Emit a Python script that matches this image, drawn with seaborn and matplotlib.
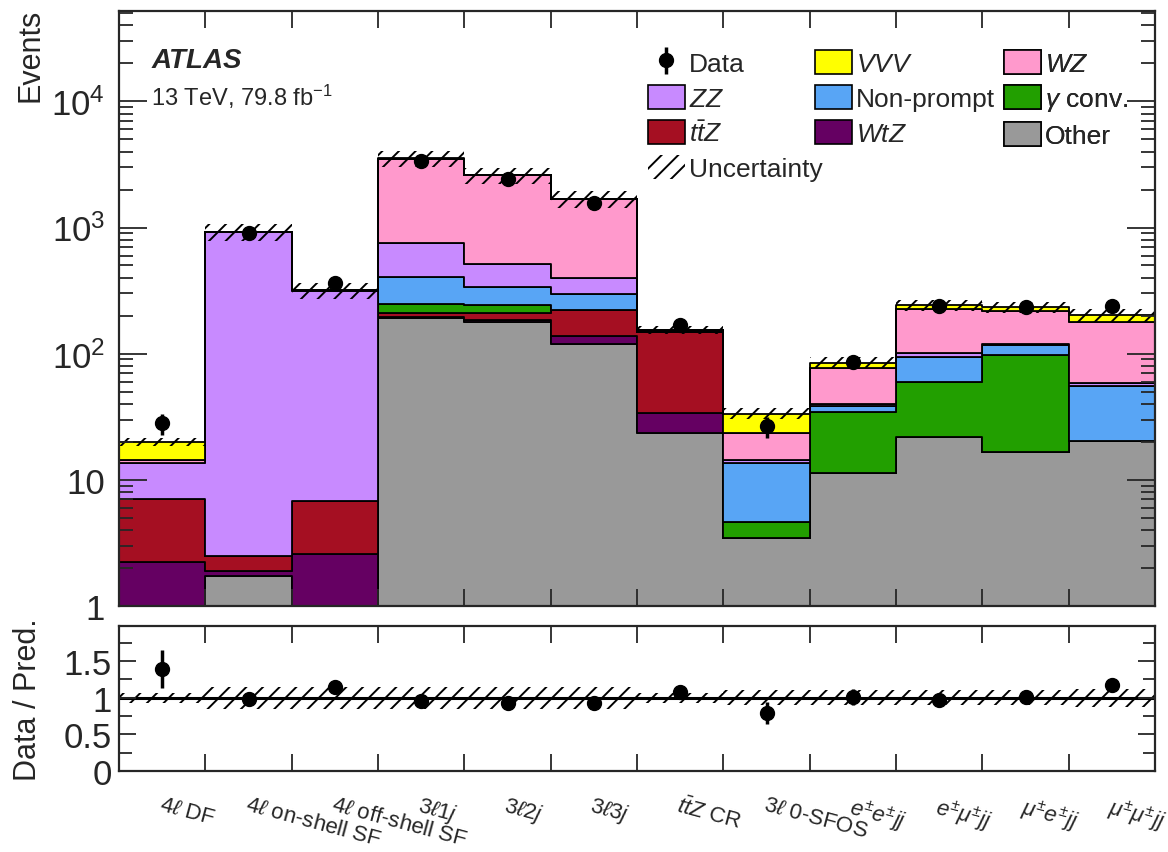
import matplotlib
matplotlib.use("Agg")
import matplotlib.pyplot as plt
import seaborn as sns
import numpy as np
import pandas as pd
from matplotlib.patches import Patch
from matplotlib.ticker import FixedLocator, NullFormatter, FuncFormatter, LogLocator, MultipleLocator

# ---- data ----
regions = [r"$4\ell$ DF", r"$4\ell$ on-shell SF", r"$4\ell$ off-shell SF",
           r"$3\ell 1j$", r"$3\ell 2j$", r"$3\ell 3j$", r"$t\bar{t}Z$ CR",
           r"$3\ell$ 0-SFOS", r"$e^{\pm}e^{\pm}jj$", r"$e^{\pm}\mu^{\pm}jj$",
           r"$\mu^{\pm}e^{\pm}jj$", r"$\mu^{\pm}\mu^{\pm}jj$"]

other   = [0.0, 1.73, 0.0, 193, 177, 120, 23.7, 3.45, 11.3, 21.7, 16.5, 20.2]
wtz     = [2.23, 0.16, 2.58, 2.0, 9.0, 19.0, 10.3, 0.0, 0.0, 0.0, 0.0, 0.0]
ttz     = [4.77, 0.60, 4.20, 16.0, 24.0, 84.0, 115.0, 0.0, 0.0, 0.0, 0.0, 0.0]
gconv   = [0.0, 0.0, 0.0, 37.0, 31.0, 0.0, 0.0, 1.16, 22.9, 38.3, 81.5, 0.0]
nonprompt = [0.0, 0.0, 0.0, 158.0, 99.0, 75.0, 1.0, 9.1, 4.6, 34.7, 20.0, 35.6]
zz      = [6.7, 918.0, 310.0, 348.0, 175.0, 101.0, 1.0, 0.6, 1.2, 7.3, 1.0, 3.2]
wz      = [0.6, 0.5, 0.3, 2760.0, 2070.0, 1270.0, 3.0, 9.0, 37.5, 125.0, 100.0, 120.0]
vvv     = [5.8, 0.3, 0.3, 26.0, 15.0, 11.0, 1.0, 10.2, 7.5, 17.0, 14.0, 24.0]

data     = [28.0, 910.0, 362.0, 3380.0, 2420.0, 1560.0, 168.0, 26.5, 86.0, 238.0, 234.0, 238.0]
data_err = [5.3, 30.0, 19.0, 58.0, 50.0, 40.0, 13.0, 5.1, 9.3, 15.4, 15.3, 15.4]

# relative uncertainty on the prediction (hatched band)
pred_unc = [0.07, 0.15, 0.15, 0.15, 0.15, 0.15, 0.07, 0.10, 0.10, 0.10, 0.10, 0.12]

samples = ["VVV", "WZ", "ZZ", "Non-prompt", "gconv", "ttZ", "WtZ", "Other"]
sample_vals = [vvv, wz, zz, nonprompt, gconv, ttz, wtz, other]
colors = {"VVV": "#ffff00", "WZ": "#ff99cc", "ZZ": "#c88aff",
          "Non-prompt": "#58a5f5", "gconv": "#229f00", "ttZ": "#a50f22",
          "WtZ": "#650062", "Other": "#999999"}
legend_names = {"VVV": r"$VVV$", "WZ": r"$WZ$", "ZZ": r"$ZZ$",
                "Non-prompt": "Non-prompt", "gconv": r"$\gamma$ conv.",
                "ttZ": r"$t\bar{t}Z$", "WtZ": r"$WtZ$", "Other": "Other"}

nbins = len(regions)
edges = [i - 0.5 for i in range(nbins + 1)]
centers = np.arange(nbins)

df = pd.DataFrame({
    "bin": np.tile(centers, len(samples)).astype(float),
    "events": np.concatenate([np.asarray(v, float) for v in sample_vals]),
    "sample": np.repeat(samples, nbins),
})

total = df.groupby("bin")["events"].sum().values
data = np.asarray(data)
data_err = np.asarray(data_err)
pred_unc = np.asarray(pred_unc)

# ---- style ----
sns.set_theme(style="ticks")
plt.rcParams["font.family"] = ["Liberation Sans", "DejaVu Sans"]
plt.rcParams["mathtext.fontset"] = "custom"
plt.rcParams["mathtext.rm"] = "Liberation Sans"
plt.rcParams["mathtext.it"] = "Liberation Sans:italic"
plt.rcParams["mathtext.bf"] = "Liberation Sans:bold"
plt.rcParams["hatch.linewidth"] = 1.4
plt.rcParams["hatch.color"] = "black"
plt.rcParams["axes.axisbelow"] = False

fig = plt.figure(figsize=(11.68, 8.53), dpi=100)
ax = fig.add_axes([0.1019, 0.2884, 0.8870, 0.6975])
rax = fig.add_axes([0.1019, 0.0950, 0.8870, 0.1699])

# ---- main panel: stacked prediction ----
sns.histplot(data=df, x="bin", weights="events", hue="sample", hue_order=samples,
             palette=colors, multiple="stack", element="step", bins=edges,
             alpha=1, edgecolor="black", linewidth=1.3, legend=False, ax=ax)
ax.set_yscale("log")
ax.set_axisbelow(False)

ax.stairs(total * (1 + pred_unc), edges, baseline=total * (1 - pred_unc),
          fill=True, facecolor="none", edgecolor="black", linewidth=0, hatch="//")

eb = ax.errorbar(centers, data, yerr=data_err, fmt="o", color="black",
                 ms=10, elinewidth=2.5, capsize=0)

ax.set_xlim(edges[0], edges[-1])
ax.set_ylim(1, 5.2e4)
ax.set_xlabel("")
ax.set_ylabel("Events", loc="top", fontsize=22)
ax.yaxis.set_label_coords(-0.071, 1.006)

def log_fmt(v, pos):
    if v == 1:
        return "1"
    if v == 10:
        return "10"
    return r"$10^{%d}$" % int(round(np.log10(v)))

ax.yaxis.set_major_locator(FixedLocator([1, 10, 100, 1000, 10000]))
ax.yaxis.set_major_formatter(FuncFormatter(log_fmt))
ax.yaxis.set_minor_locator(LogLocator(base=10, subs=np.arange(2, 10)))
ax.yaxis.set_minor_formatter(NullFormatter())

for a in (ax, rax):
    a.set_axisbelow(False)
    a.xaxis.set_major_locator(FixedLocator(edges[1:-1]))
    a.xaxis.set_major_formatter(NullFormatter())
    a.tick_params(axis="x", which="major", direction="in", length=12, width=1.3,
                  top=True, bottom=True)
    a.tick_params(axis="y", which="both", direction="in", left=True, right=True,
                  labelsize=25, width=1.3, pad=5)
    for s in a.spines.values():
        s.set_linewidth(1.6)
        s.set_zorder(5)

ax.tick_params(axis="y", which="major", length=20, pad=10)
ax.tick_params(axis="y", which="minor", length=10)

ax.text(0.031, 0.918, "ATLAS", transform=ax.transAxes, fontsize=20,
        fontweight="bold", fontstyle="italic", va="center")
ax.text(0.031, 0.858, r"13 TeV, 79.8 fb$^{\mathregular{-1}}$", transform=ax.transAxes,
        fontsize=17, va="center")

# legend: three separate columns, placed like the ROOT legend
def box(key):
    return Patch(facecolor=colors[key], edgecolor="black", linewidth=1.2)

unc_handle = Patch(facecolor="none", edgecolor="black", linewidth=0, hatch="//")
columns = [
    ([eb, box("ZZ"), box("ttZ"), unc_handle],
     ["Data", legend_names["ZZ"], legend_names["ttZ"], "Uncertainty"], 0.5106),
    ([box("VVV"), box("Non-prompt"), box("WtZ")],
     [legend_names["VVV"], "Non-prompt", legend_names["WtZ"]], 0.6715),
    ([box("WZ"), box("gconv"), box("Other")],
     [legend_names["WZ"], legend_names["gconv"], "Other"], 0.8545),
]
for hs, ls, xpos in columns:
    leg = ax.legend(hs, ls, loc="upper left", bbox_to_anchor=(xpos, 0.935),
                    frameon=False, fontsize=19, handlelength=1.4, handleheight=1.05,
                    handletextpad=0.15, labelspacing=0.33, borderpad=0,
                    borderaxespad=0)
    ax.add_artist(leg)

# ---- ratio panel ----
ratio = data / total
ratio_err = data_err / total
rax.stairs(1 + pred_unc, edges, baseline=1 - pred_unc, fill=True,
           facecolor="none", edgecolor="black", linewidth=0, hatch="//")
rax.axhline(1, color="black", linewidth=2.2)
rax.errorbar(centers, ratio, yerr=ratio_err, fmt="o", color="black",
             ms=10, elinewidth=2.5, capsize=0)
rax.set_xlim(edges[0], edges[-1])
rax.set_ylim(0, 1.98)
rax.yaxis.set_major_locator(FixedLocator([0, 0.5, 1, 1.5]))
rax.yaxis.set_major_formatter(FuncFormatter(lambda v, p: "%g" % v))
rax.yaxis.set_minor_locator(MultipleLocator(0.25))
rax.tick_params(axis="y", which="major", length=12)
rax.tick_params(axis="y", which="minor", length=9)
rax.set_ylabel("Data / Pred.", fontsize=22)
rax.yaxis.set_label_coords(-0.073, 0.5)

# region labels at bin centres, rotated
rax.xaxis.set_minor_locator(FixedLocator(centers))
rax.set_xticklabels(regions, minor=True)
rax.tick_params(axis="x", which="minor", length=0, pad=16, labelsize=16)
for lab in rax.get_xticklabels(minor=True):
    lab.set_rotation(-15)
    lab.set_ha("left")
    lab.set_rotation_mode("anchor")
rax.set_xlabel("")

fig.savefig("out.png", dpi=100)
